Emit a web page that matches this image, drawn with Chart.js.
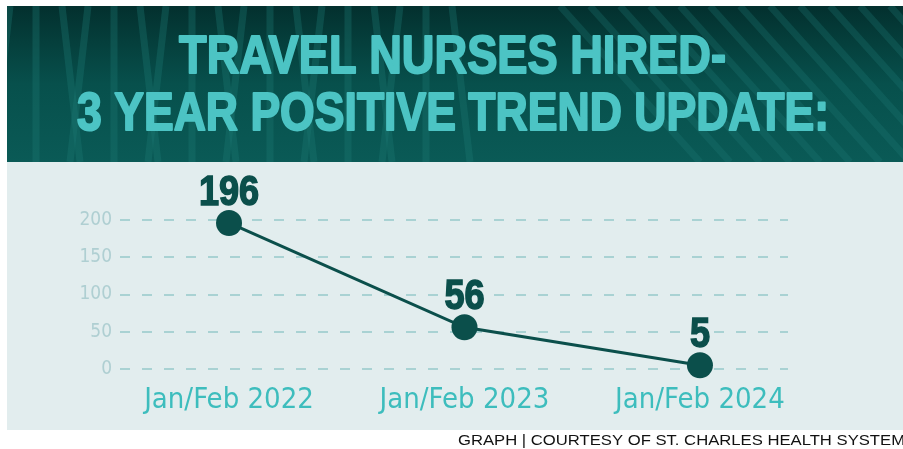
<!DOCTYPE html>
<html>
<head>
<meta charset="utf-8">
<script src="https://cdn.jsdelivr.net/npm/chart.js@4.4.1/dist/chart.umd.min.js"></script>
<style>
  html, body { margin: 0; padding: 0; background: #ffffff; }
  #wrap { position: relative; width: 903px; height: 449px; }
  canvas { display: block; }
</style>
</head>
<body>
<div id="wrap"><canvas id="c" width="903" height="449"></canvas></div>
<script>
// ---- data ----
const categories = ["Jan/Feb 2022", "Jan/Feb 2023", "Jan/Feb 2024"];
const nursesHired = [196, 56, 5];
const yTicks = [0, 50, 100, 150, 200];
const titleLines = ["TRAVEL NURSES HIRED-", "3 YEAR POSITIVE TREND UPDATE:"];
const creditText = "GRAPH | COURTESY OF ST. CHARLES HEALTH SYSTEM";

const COND = '"DejaVu Sans Condensed", "Liberation Sans", sans-serif';
const HEAVY = '"Liberation Sans", Arial, sans-serif';

const backgroundPlugin = {
  id: 'bg',
  beforeDraw(chart) {
    const ctx = chart.ctx;
    ctx.save();
    // light panel
    ctx.fillStyle = '#e2edee';
    ctx.fillRect(7, 160, 896, 270);
    // banner
    const g = ctx.createLinearGradient(0, 6, 0, 162);
    g.addColorStop(0, '#03302e');
    g.addColorStop(0.5, '#07504c');
    g.addColorStop(1, '#0a5a56');
    ctx.fillStyle = g;
    ctx.fillRect(7, 6, 896, 156);
    ctx.beginPath();
    ctx.rect(7, 6, 896, 156);
    ctx.clip();
    // decorative stripes
    ctx.lineCap = 'butt';
    ctx.strokeStyle = 'rgba(30,120,115,0.35)';
    ctx.lineWidth = 7;
    for (let i = 0; i < 18; i++) {
      const x = 10 + i * 26;
      const tilt = (i % 3 - 1) * 18;
      ctx.beginPath();
      ctx.moveTo(x, 6);
      ctx.lineTo(x + tilt, 162);
      ctx.stroke();
    }
    ctx.strokeStyle = 'rgba(30,120,115,0.30)';
    for (let i = 0; i < 16; i++) {
      const x = 560 + i * 30;
      ctx.beginPath();
      ctx.moveTo(x, 6);
      ctx.lineTo(x + 140, 162);
      ctx.stroke();
    }
    ctx.restore();
  },
  afterDraw(chart) {
    const ctx = chart.ctx;
    ctx.save();
    // title
    ctx.fillStyle = '#4cc4c4';
    ctx.strokeStyle = '#4cc4c4';
    ctx.lineWidth = 2;
    ctx.lineJoin = 'round';
    ctx.textBaseline = 'alphabetic';
    ctx.textAlign = 'left';
    const specs = [
      { text: titleLines[0], x: 178, w: 549, base: 73, cap: 40 },
      { text: titleLines[1], x: 76, w: 754, base: 130, cap: 39 }
    ];
    specs.forEach(s => {
      const size = (s.cap - 1) / 0.72;
      ctx.font = 'bold ' + size + 'px ' + HEAVY;
      const mw = ctx.measureText(s.text).width;
      ctx.save();
      ctx.translate(s.x + 1, s.base - 0.5);
      ctx.scale((s.w - 2) / mw, 1);
      ctx.fillText(s.text, 0, 0);
      ctx.strokeText(s.text, 0, 0);
      ctx.restore();
    });
    // credit line
    ctx.fillStyle = '#111111';
    ctx.font = '15px "Liberation Sans", Arial, sans-serif';
    ctx.textBaseline = 'middle';
    const cw = ctx.measureText(creditText).width;
    ctx.save();
    ctx.translate(458, 441);
    ctx.scale(447 / cw, 1);
    ctx.fillText(creditText, 0, 0);
    ctx.restore();
    ctx.restore();
  }
};

const valueLabelPlugin = {
  id: 'valueLabels',
  afterDatasetsDraw(chart) {
    const ctx = chart.ctx;
    const meta = chart.getDatasetMeta(0);
    ctx.save();
    ctx.fillStyle = '#0b4f4b';
    ctx.strokeStyle = '#0b4f4b';
    ctx.lineWidth = 1.5;
    ctx.textAlign = 'center';
    ctx.textBaseline = 'alphabetic';
    ctx.font = 'bold 42px ' + HEAVY;
    meta.data.forEach((pt, i) => {
      ctx.save();
      ctx.translate(pt.x, pt.y - 18);
      ctx.scale(0.86, 1);
      ctx.fillText(String(nursesHired[i]), 0, 0);
      ctx.strokeText(String(nursesHired[i]), 0, 0);
      ctx.restore();
    });
    ctx.restore();
  }
};

new Chart(document.getElementById('c'), {
  type: 'line',
  data: {
    datasets: [{
      data: nursesHired.map((v, i) => ({ x: i, y: v })),
      borderColor: '#0b4f4b',
      backgroundColor: '#0b4f4b',
      borderWidth: 3,
      pointRadius: 13,
      pointHoverRadius: 13,
      pointBorderWidth: 0,
      tension: 0,
      clip: false
    }]
  },
  options: {
    responsive: false,
    animation: false,
    events: [],
    layout: { padding: { top: 220, right: 115, bottom: 10, left: 0 } },
    plugins: { legend: { display: false }, tooltip: { enabled: false } },
    scales: {
      x: {
        type: 'linear',
        min: -0.463,
        max: 2.374,
        afterBuildTicks(scale) { scale.ticks = categories.map((c, i) => ({ value: i })); },
        afterFit(scale) { scale.height = 70; },
        grid: { display: false, drawTicks: false },
        border: { display: false },
        ticks: {
          padding: 14,
          color: '#3dbdbd',
          font: { family: COND, size: 29 },
          callback: (v) => categories[v],
          maxRotation: 0,
          autoSkip: false
        }
      },
      y: {
        min: 0,
        max: 200,
        afterBuildTicks(scale) { scale.ticks = yTicks.map(v => ({ value: v })); },
        afterFit(scale) { scale.width = 120; },
        grid: { color: '#a9d2d3', lineWidth: 2, drawTicks: false },
        border: { display: false, dash: [10, 12] },
        ticks: {
          padding: 8,
          color: '#afcfd2',
          font: { family: COND, size: 19 }
        }
      }
    }
  },
  plugins: [backgroundPlugin, valueLabelPlugin]
});
</script>
</body>
</html>
